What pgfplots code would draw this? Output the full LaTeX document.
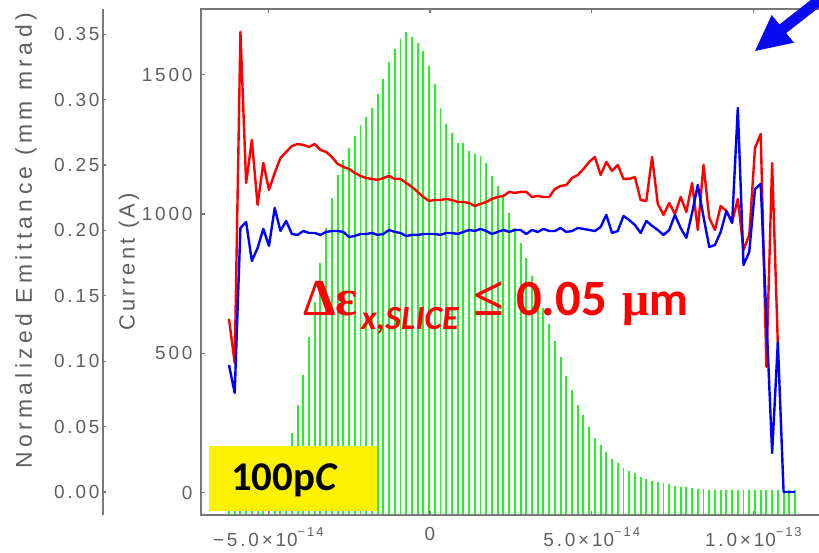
\documentclass[border=0pt]{standalone}
\usepackage{pgfplots}
\pgfplotsset{compat=1.18}
\usepackage{pgfplotstable}
\usepackage{fontspec}
\setmainfont{Liberation Sans}
\newfontfamily\axfont{Liberation Sans}[LetterSpace=15]
\newfontfamily\lblfont{Liberation Sans}[LetterSpace=19]
\newfontfamily\calib{Carlito}
\newfontfamily\serifb{Liberation Serif}
\definecolor{axgray}{RGB}{120,120,120}
\definecolor{labgray}{RGB}{95,95,95}
\definecolor{bargreen}{RGB}{40,240,40}
\definecolor{arrowblue}{RGB}{10,10,240}
\newcommand\xl[2]{#1×1\kern0.05em 0\raisebox{0.55em}{\fontsize{13}{13}\selectfont #2}}

% current profile (A), x in units of 1e-14
\pgfplotstableread{
x I
-6.215 7
-6.038 8
-5.861 9
-5.685 11
-5.508 14
-5.331 19
-5.154 28
-4.978 42
-4.801 65
-4.624 100
-4.447 150
-4.270 214
-4.094 314
-3.917 422
-3.740 559
-3.563 684
-3.387 824
-3.210 950
-3.033 1058
-2.856 1140
-2.679 1194
-2.503 1237
-2.326 1280
-2.149 1320
-1.972 1349
-1.796 1381
-1.619 1431
-1.442 1485
-1.265 1546
-1.088 1593
-0.912 1628
-0.735 1654
-0.558 1636
-0.381 1615
-0.205 1586
-0.028 1532
0.149 1467
0.326 1381
0.503 1324
0.679 1291
0.856 1255
1.033 1255
1.210 1227
1.387 1216
1.563 1209
1.740 1184
1.917 1137
2.094 1101
2.270 1061
2.447 1004
2.624 950
2.801 896
2.978 842
3.154 778
3.331 717
3.508 663
3.685 605
3.861 544
4.038 487
4.215 418
4.392 368
4.569 314
4.745 278
4.922 235
5.099 196
5.276 171
5.452 146
5.629 121
5.806 106
5.983 88
6.160 77
6.336 70
6.513 56
6.690 48
6.867 41
7.044 38
7.220 34
7.397 31
7.574 23
7.751 20
7.927 20
8.104 16
8.281 13
8.458 13
8.635 10
8.811 10
8.988 9
9.165 9
9.342 9
9.518 9
9.695 9
9.872 9
10.049 9
10.226 9
10.402 9
10.579 9
10.756 9
10.933 9
11.109 9
11.286 9
}\curdata

% slice emittance (mm mrad)
\pgfplotstableread{
x R
-6.215 0.1323
-6.038 0.0986
-5.861 0.3517
-5.685 0.2362
-5.508 0.2691
-5.331 0.2194
-5.154 0.2515
-4.978 0.2309
-4.801 0.2439
-4.624 0.2553
-4.447 0.2599
-4.270 0.2645
-4.094 0.2660
-3.917 0.2653
-3.740 0.2638
-3.563 0.2660
-3.387 0.2615
-3.210 0.2599
-3.033 0.2561
-2.856 0.2508
-2.679 0.2485
-2.503 0.2469
-2.326 0.2439
-2.149 0.2416
-1.972 0.2400
-1.796 0.2393
-1.619 0.2385
-1.442 0.2400
-1.265 0.2416
-1.088 0.2393
-0.912 0.2393
-0.735 0.2362
-0.558 0.2332
-0.381 0.2294
-0.205 0.2255
-0.028 0.2225
0.149 0.2232
0.326 0.2232
0.503 0.2240
0.679 0.2232
0.856 0.2217
1.033 0.2217
1.210 0.2209
1.387 0.2186
1.563 0.2202
1.740 0.2217
1.917 0.2240
2.094 0.2255
2.270 0.2263
2.447 0.2294
2.624 0.2286
2.801 0.2294
2.978 0.2294
3.154 0.2255
3.331 0.2263
3.508 0.2255
3.685 0.2255
3.861 0.2316
4.038 0.2339
4.215 0.2347
4.392 0.2400
4.569 0.2423
4.745 0.2469
4.922 0.2523
5.099 0.2561
5.276 0.2423
5.452 0.2523
5.629 0.2454
5.806 0.2500
5.983 0.2393
6.160 0.2393
6.336 0.2408
6.513 0.2232
6.690 0.2225
6.867 0.2561
7.044 0.2202
7.220 0.2118
7.397 0.2209
7.574 0.2125
7.751 0.2255
7.927 0.2141
8.104 0.2362
8.281 0.2003
8.458 0.2500
8.635 0.2095
8.811 0.2003
8.988 0.2186
9.165 0.2148
9.342 0.2064
9.518 0.2240
9.695 0.1850
9.872 0.1965
10.049 0.2630
10.226 0.2737
10.402 0.0956
10.579 0.2515
10.756 0.1124
}\reddata

\pgfplotstableread{
x B
-6.215 0.0971
-6.038 0.0757
-5.861 0.2018
-5.685 0.2064
-5.508 0.1766
-5.331 0.1865
-5.154 0.2011
-4.978 0.1881
-4.801 0.2171
-4.624 0.1995
-4.447 0.2072
-4.270 0.1972
-4.094 0.1965
-3.917 0.1995
-3.740 0.1980
-3.563 0.1980
-3.387 0.1965
-3.210 0.1988
-3.033 0.1995
-2.856 0.1995
-2.679 0.1988
-2.503 0.1949
-2.326 0.1957
-2.149 0.1972
-1.972 0.1972
-1.796 0.1980
-1.619 0.1965
-1.442 0.1972
-1.265 0.2003
-1.088 0.1988
-0.912 0.1980
-0.735 0.1957
-0.558 0.1965
-0.381 0.1965
-0.205 0.1972
-0.028 0.1972
0.149 0.1972
0.326 0.1965
0.503 0.1980
0.679 0.1980
0.856 0.1972
1.033 0.1988
1.210 0.2003
1.387 0.1995
1.563 0.2011
1.740 0.1995
1.917 0.1972
2.094 0.1988
2.270 0.2003
2.447 0.1988
2.624 0.2003
2.801 0.2003
2.978 0.1972
3.154 0.2003
3.331 0.1988
3.508 0.2011
3.685 0.1995
3.861 0.1995
4.038 0.2018
4.215 0.1988
4.392 0.1995
4.569 0.2018
4.745 0.2011
4.922 0.2003
5.099 0.1995
5.276 0.2026
5.452 0.2118
5.629 0.1980
5.806 0.1995
5.983 0.2110
6.160 0.2079
6.336 0.2041
6.513 0.1980
6.690 0.2072
6.867 0.2034
7.044 0.2003
7.220 0.1965
7.397 0.2003
7.574 0.2118
7.751 0.2018
7.927 0.1942
8.104 0.2133
8.281 0.2347
8.458 0.2102
8.635 0.1873
8.811 0.1888
8.988 0.1988
9.165 0.2148
9.342 0.2057
9.518 0.2936
9.695 0.1735
9.872 0.1835
10.049 0.2316
10.226 0.2355
10.402 0.1330
10.579 0.0298
10.756 0.1147
10.933 0.0000
11.109 0.0000
11.286 0.0000
}\bluedata

\begin{document}
\begin{tikzpicture}[x=1bp,y=1bp]
\useasboundingbox (0bp,0bp) rectangle (819bp,553bp);
\pgfplotsset{
  geom/.style={at={(201bp,38bp)}, anchor=south west, scale only axis,
    width=625bp, height=506bp, xmin=-7.08, xmax=12.245},
  every tick label/.append style={font=\axfont\fontsize{19}{19}\selectfont, text=labgray},
  /pgf/number format/assume math mode=true,
  /pgf/number format/1000 sep={},
}
% bars
\begin{axis}[geom, ymin=0, ymax=1817.5, hide axis]
  \addplot[ycomb, draw=bargreen, line width=1.9bp, mark=none]
    table[x=x, y expr=\thisrow{I}+80.8] {\curdata};
\end{axis}
% emittance lines
\begin{axis}[geom, ymin=-0.01758, ymax=0.3692, hide axis]
  \addplot[red, line width=2.4bp, mark=none, line join=round] table[x=x, y=R] {\reddata};
  \addplot[blue, line width=2.4bp, mark=none, line join=round] table[x=x, y=B] {\bluedata};
\end{axis}
% main (current) axis frame
\begin{axis}[geom, ymin=-80.8, ymax=1736.7,
  axis line style={draw=axgray, line width=1.2bp},
  tick style={draw=axgray, line width=1.2bp},
  tick align=inside, major tick length=4bp,
  xtick={-5,0,5,10},
  xticklabels={\xl{−5.0}{−14}, 0, \xl{5.0}{−14}, \xl{1.0}{−13}},
  xtick pos=both, xticklabel pos=lower,
  xticklabel style={yshift=-11bp, inner sep=1bp},
  ytick={0,500,1000,1500}, ytick pos=left,
  yticklabel style={xshift=-5bp},
  ylabel={Current (A)},
  every axis y label/.style={at={([xshift=-72bp]rel axis cs:0,0.5)}, rotate=90, anchor=center,
     font=\axfont\fontsize{22}{22}\selectfont, text=labgray},
]
\end{axis}
% emittance axis
\begin{axis}[at={(103bp,38bp)}, anchor=south west, scale only axis, width=10bp, height=506bp,
  xmin=0, xmax=1, ymin=-0.01758, ymax=0.3692,
  axis x line=none, axis y line*=left,
  axis line style={draw=axgray, line width=1.2bp},
  tick style={draw=axgray, line width=1.2bp},
  tick align=inside, major tick length=3bp,
  ytick={0,0.05,0.10,0.15,0.20,0.25,0.30,0.35},
  yticklabel style={/pgf/number format/.cd, fixed, fixed zerofill, precision=2},
  ylabel={Normalized Emittance (mm mrad)},
  every axis y label/.style={at={([xshift=-77bp]rel axis cs:0,0.5415)}, rotate=90, anchor=center,
     font=\lblfont\fontsize{23}{23}\selectfont, text=labgray},
]
\end{axis}
% annotations
\fill[yellow] (209,42) rectangle (377,107);
\node[anchor=base west, inner sep=0] at (231,62.5)
  {\calib\bfseries\fontsize{41}{41}\selectfont 100p\itshape C};
\node[anchor=base west, inner sep=0, text=red] at (303,238)
  {\serifb\bfseries\fontsize{52}{52}\selectfont Δε};
\node[anchor=base west, inner sep=0, text=red] at (361,223.5)
  {\calib\bfseries\itshape\fontsize{34}{34}\selectfont x,SLICE};
\node[anchor=base west, inner sep=0, text=red] at (473,238)
  {\serifb\bfseries\fontsize{56}{56}\selectfont ≤};
\node[anchor=base west, inner sep=0, text=red] at (516,238)
  {\calib\bfseries\fontsize{51}{51}\selectfont 0.05};
\node[anchor=base west, inner sep=0, text=red] at (622,238)
  {\serifb\bfseries\fontsize{48}{48}\selectfont μ\calib m};
\fill[arrowblue] (755,502) -- (771.7,538) -- (779.4,528.5) -- (826.7,565.5)
  -- (833.5,556.9) -- (786.2,519.9) -- (794,510.3) -- cycle;
\end{tikzpicture}
\end{document}
